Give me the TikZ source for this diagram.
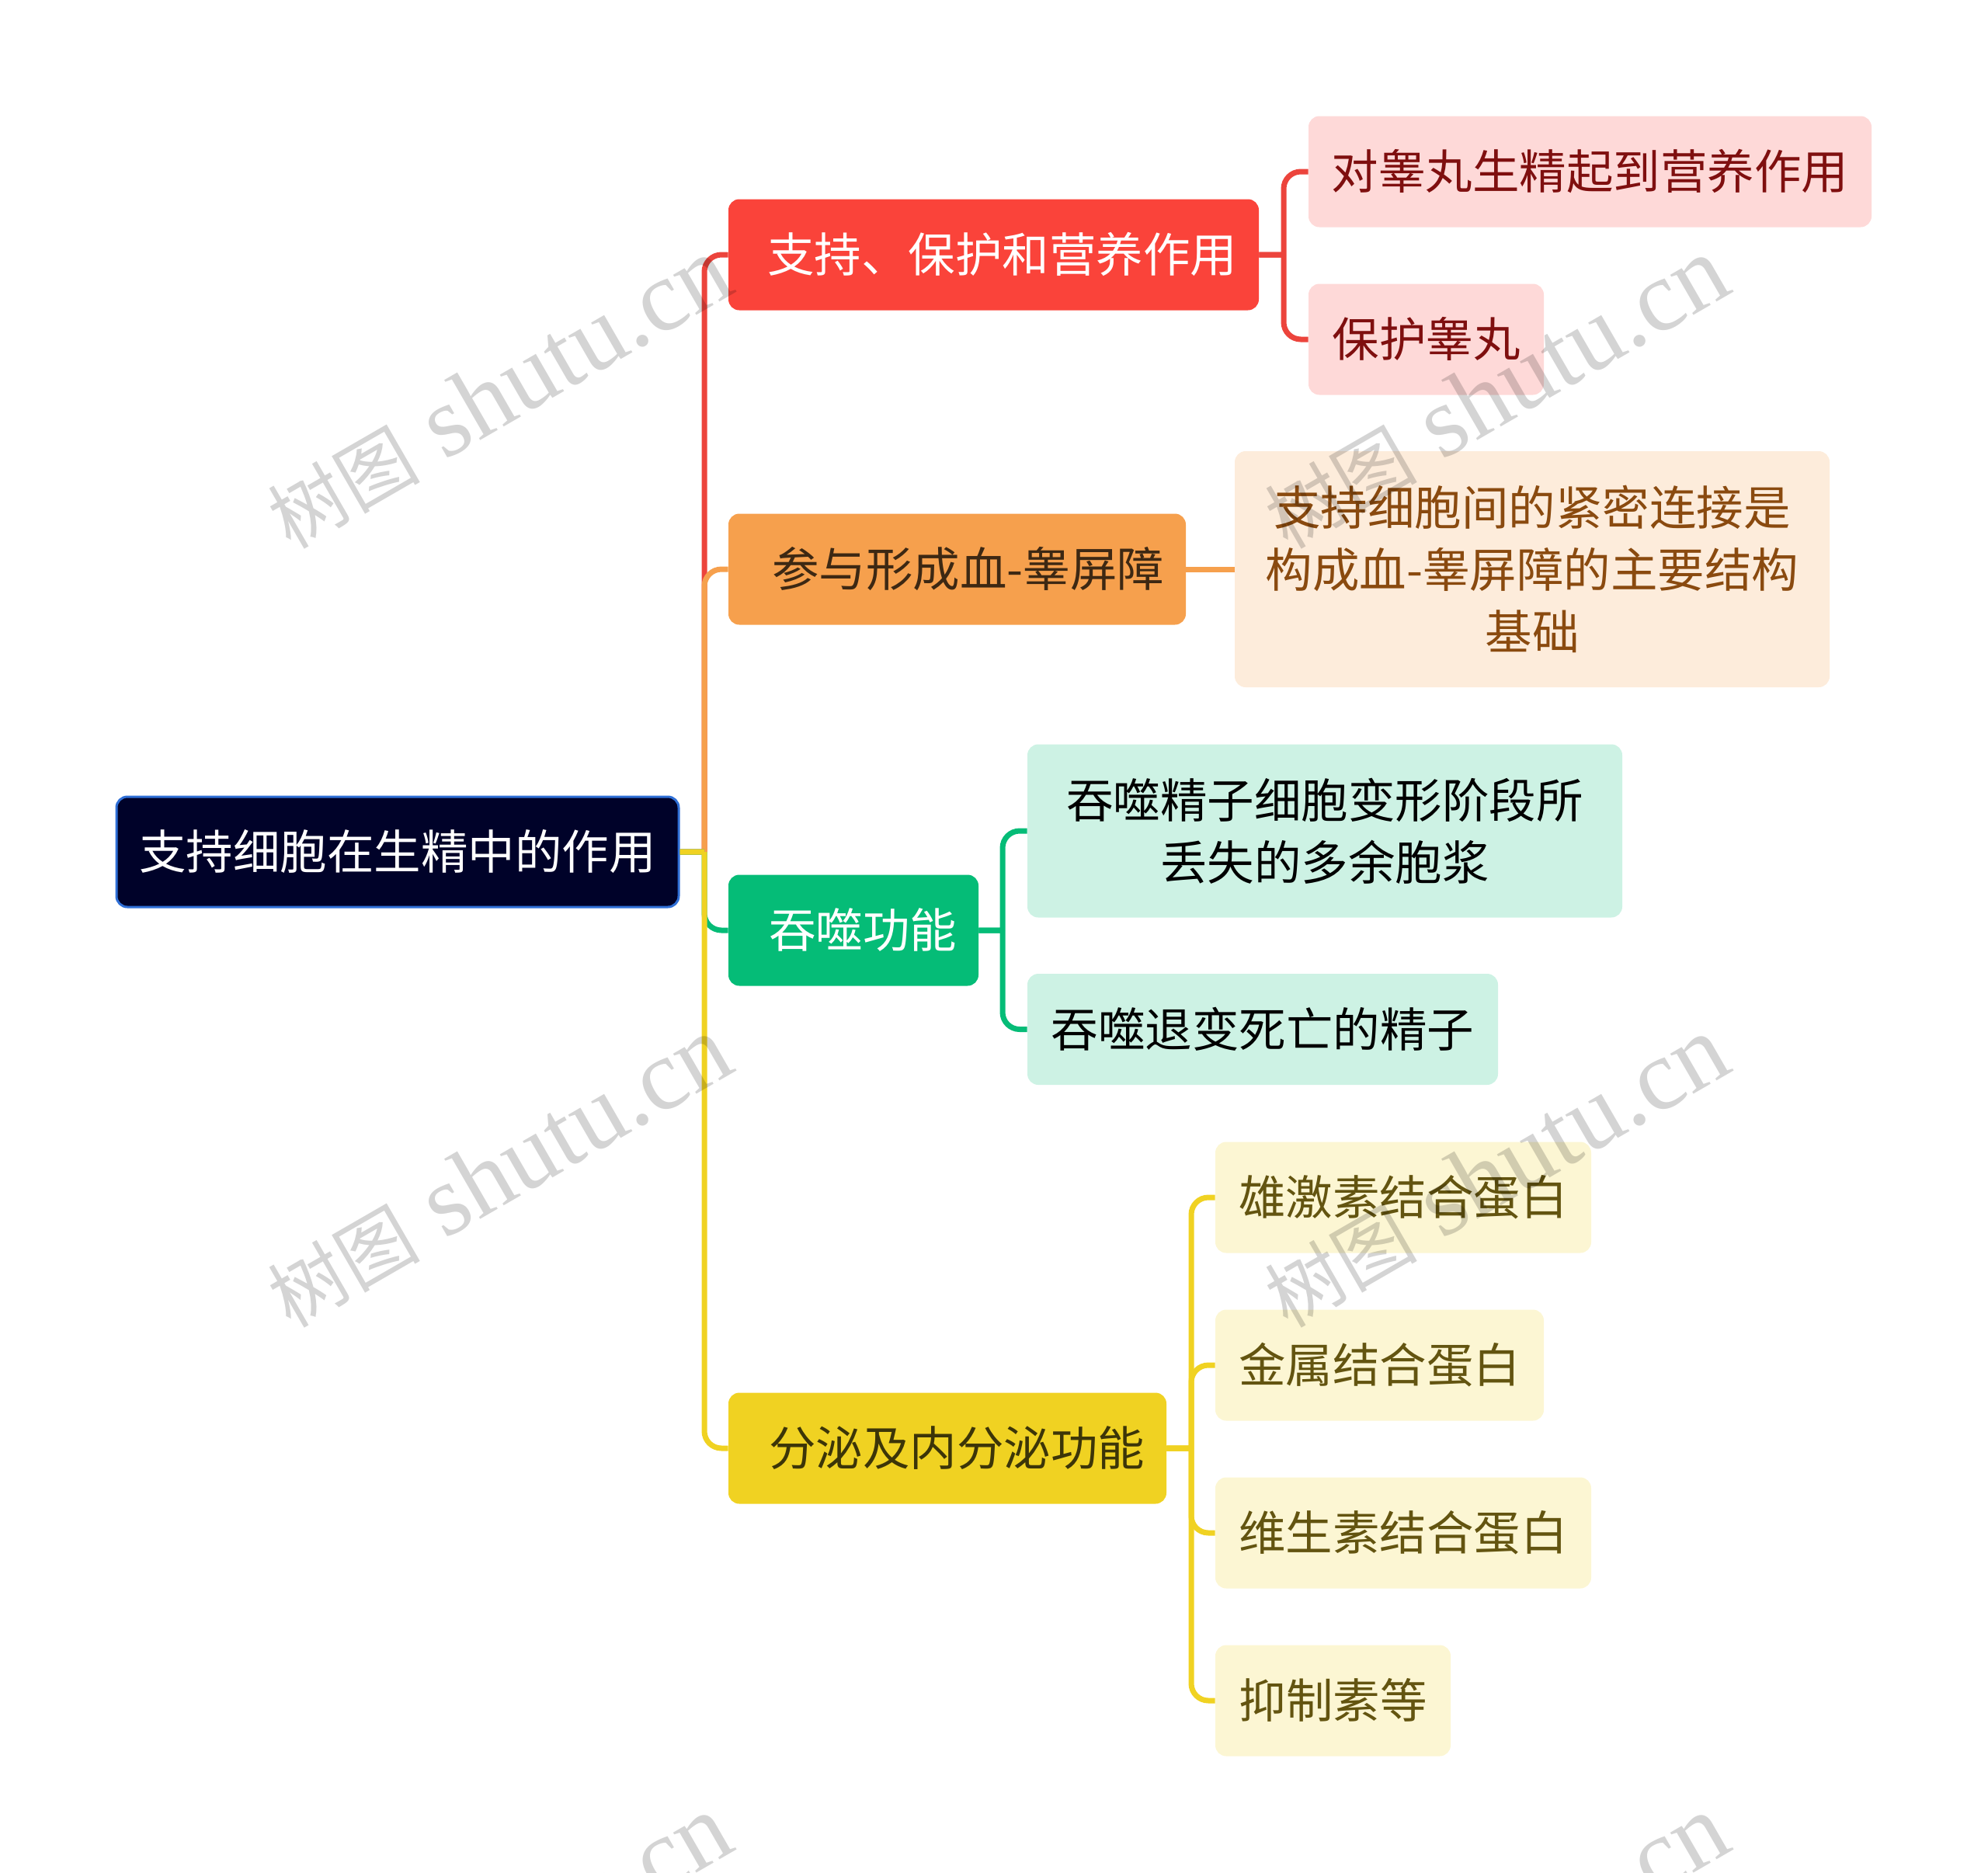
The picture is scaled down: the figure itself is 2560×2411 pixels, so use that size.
\documentclass[tikz,border=0pt]{standalone}
\usepackage{fontspec}
\setmainfont{Noto Sans CJK SC}
\newfontfamily\markfont{Liberation Serif}
\usetikzlibrary{
  chains,
  scopes
}
\definecolor{rootfill}{HTML}{000229}
\definecolor{rootline}{HTML}{2F6FD6}
\definecolor{redmain}{HTML}{FA433A}
\definecolor{redwire}{HTML}{EC443C}
\definecolor{redleaf}{HTML}{FED9D8}
\definecolor{redtext}{HTML}{7F0F0F}
\definecolor{orangemain}{HTML}{F6A04D}
\definecolor{orangeleaf}{HTML}{FDECDB}
\definecolor{orangetext}{HTML}{8A4A0F}
\definecolor{greenmain}{HTML}{05BC77}
\definecolor{greenleaf}{HTML}{CDF2E4}
\definecolor{yellowmain}{HTML}{F0D222}
\definecolor{yellowleaf}{HTML}{FCF6D3}
\definecolor{yellowtext}{HTML}{635410}
\begin{document}
\begin{tikzpicture}[
      x=0.5pt,y=-0.5pt,
      mapbox/.style 2 args={
         rectangle,
         rounded corners=7pt,
         inner sep=0pt,
         minimum width=#1*0.5pt,
         minimum height=#2*0.5pt,
         font=\fontsize{30.25}{40}\selectfont
      },
      oneline/.style={text height=26pt,text depth=4pt},
      mainbox/.style n args={3}{
         mapbox={#1}{143},
         oneline,
         fill=#2,
         text=#3,
         align=right,
         text width=(#1-56)*0.5pt
      },
      redbox/.style={mapbox={#1}{143},oneline,fill=redleaf,text=redtext},
      orangebox/.style={mapbox=#1,fill=orangeleaf,text=orangetext,align=center},
      greenbox/.style={mapbox=#1,fill=greenleaf,text=black,align=center},
      yellowbox/.style={mapbox={#1}{143},oneline,fill=yellowleaf,text=yellowtext},
      redline/.style={draw=redwire,line width=3.5pt},
      orangeline/.style={draw=orangemain,line width=3.5pt},
      greenline/.style={draw=greenmain,line width=3.5pt},
      yellowline/.style={draw=yellowmain,line width=3.5pt},
      elbow/.style={rounded corners=11pt,to path={-- (#1 |- \tikztostart) (#1 |- \tikztostart) |- (\tikztotarget)}},
      watermark/.style={rotate=30,text=black,text opacity=0.17,inner sep=0pt,font=\markfont\fontsize{65}{65}\selectfont}
    ]
    \useasboundingbox (0,0) rectangle (2560,2411);
    \coordinate (trunk) at (907,0);
    \coordinate (bar1) at (1653,0);
    \coordinate (bar3) at (1291,0);
    \coordinate (bar4) at (1534,0);
    % nodes
    \node (root) [mapbox={724}{142},fill=rootfill,draw=rootline,line width=1.5pt,text=white,oneline] at (512,1097) {支持细胞在生精中的作用};
    \node (n1) [mainbox={683}{redmain}{white}] at (1279.5,328) {支持、保护和营养作用};
    \node (n2) [mainbox={589}{orangemain}{black!75!orangemain}] at (1232.5,733) {参与形成血-睾屏障};
    \node (n3) [mainbox={322}{greenmain}{white}] at (1099,1198) {吞噬功能};
    \node (n4) [mainbox={564}{yellowmain}{black!75!yellowmain}] at (1220,1865) {分泌及内分泌功能};
    \node (n11) [redbox=725] at (2047.5,221) {对睾丸生精起到营养作用};
    \node (n12) [redbox=303] at (1836.5,437) {保护睾丸};
    \node (n21) [orangebox={{766}{304}}] at (1973,733) {支持细胞间的紧密连接是\\构成血-睾屏障的主要结构\\基础};
    \node (n31) [greenbox={{766}{223}}] at (1706,1070) {吞噬精子细胞变形阶段所\\丢失的多余胞浆};
    \node (n32) [greenbox={{606}{143}}] at (1626,1325.5) {吞噬退变死亡的精子};
    \node (n41) [yellowbox=484] at (1807,1542) {雄激素结合蛋白};
    \node (n42) [yellowbox=423] at (1776.5,1758) {金属结合蛋白};
    \node (n43) [yellowbox=484] at (1807,1974) {维生素结合蛋白};
    \node (n44) [yellowbox=303] at (1716.5,2190) {抑制素等};
  { [start chain]
       \chainin (root);
       \chainin (n1)    [join=by {elbow=trunk,redline}];
  }
  { [start chain]
       \chainin (root);
       \chainin (n2)    [join=by {elbow=trunk,orangeline}];
  }
  { [start chain]
       \chainin (root);
       \chainin (n3)    [join=by {elbow=trunk,greenline}];
  }
  { [start chain]
       \chainin (root);
       \chainin (n4)    [join=by {elbow=trunk,yellowline}];
  }
  { [start chain]
       \chainin (n1);
       \chainin (n11)    [join=by {elbow=bar1,redline}];
  }
  { [start chain]
       \chainin (n1);
       \chainin (n12)    [join=by {elbow=bar1,redline}];
  }
  { [start chain]
       \chainin (n2);
       \chainin (n21)    [join=by orangeline];
  }
  { [start chain]
       \chainin (n3);
       \chainin (n31)    [join=by {elbow=bar3,greenline}];
  }
  { [start chain]
       \chainin (n3);
       \chainin (n32)    [join=by {elbow=bar3,greenline}];
  }
  { [start chain]
       \chainin (n4);
       \chainin (n41)    [join=by {elbow=bar4,yellowline}];
  }
  { [start chain]
       \chainin (n4);
       \chainin (n42)    [join=by {elbow=bar4,yellowline}];
  }
  { [start chain]
       \chainin (n4);
       \chainin (n43)    [join=by {elbow=bar4,yellowline}];
  }
  { [start chain]
       \chainin (n4);
       \chainin (n44)    [join=by {elbow=bar4,yellowline}];
  }
    % watermarks
    \foreach \wx in {642,1926} {
      \foreach \wy in {506,1509,2512} {
        \node [watermark] at (\wx,\wy) {{\setmainfont{Noto Sans CJK SC}\fontsize{49}{60}\selectfont 树图} shutu.cn};
      }
    }
\end{tikzpicture}
\end{document}
